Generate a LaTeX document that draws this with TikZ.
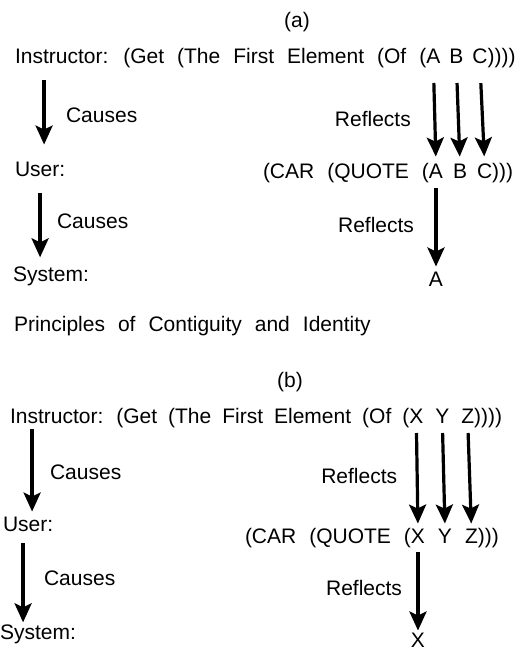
\documentclass[tikz,border=0pt]{standalone}
\usepackage{fontspec}
\setmainfont{Liberation Sans}
\usetikzlibrary{arrows.meta,positioning}
\newcommand{\diagfont}{\fontsize{21}{25}\selectfont\spaceskip=13pt\relax}
\newcommand{\tightfont}{\fontsize{21}{25}\selectfont\spaceskip=11pt\relax}

\begin{document}
\begin{tikzpicture}[x=1pt,y=-1pt]
		\tikzstyle{word}=[inner sep=0pt, outer sep=0pt, font=\diagfont]
		\tikzstyle{link}=[line width=3.2pt, -{Stealth[length=19pt,width=17pt,inset=4pt]}]
		\tikzstyle{link_text}=[word, midway]

		\useasboundingbox (0,0) rectangle (525,650);

		% (a)
		\begin{scope}
			\node [word, anchor=base] (title_a) at (297,28) {(a)};
			\node [word, anchor=base west] (instr_a) at (15,64) {Instructor: (Get (The First Element (Of (};
			\node [word, base right=0pt of instr_a] (top_a1) {A};
			\node [word, base right=9pt of top_a1] (top_a2) {B};
			\node [word, base right=9pt of top_a2] (top_a3) {C};
			\node [word, base right=0pt of top_a3] (close_a1) {))))};

			\node [word, anchor=base west] (user_a) at (15,176) {User:};
			\node [word, anchor=base west] (car_a) at (263,178) {(CAR (QUOTE (};
			\node [word, base right=0pt of car_a] (mid_a1) {A};
			\node [word, base right=10pt of mid_a1] (mid_a2) {B};
			\node [word, base right=10pt of mid_a2] (mid_a3) {C};
			\node [word, base right=0pt of mid_a3] (close_a2) {)))};

			\node [word, anchor=base west] (system_a) at (13,281) {System:};
			\node [word, anchor=base] (result_a) at (mid_a1.base |- 0,286) {A};

			\draw [link, shorten <=12pt, shorten >=17pt] ([xshift=4pt]user_a.north |- instr_a.south) -- ([xshift=4pt]user_a.north)
				node [link_text, right=22pt] (cause_a1) {Causes};
			\draw [link, shorten <=17pt, shorten >=9pt] (user_a.south) -- (user_a.south |- system_a.north)
				node [link_text, right=17pt] (cause_a2) {Causes};

			\draw [link, shorten <=19pt, shorten >=7pt] (top_a1.south) -- (mid_a1.north)
				node [link_text, pos=0.55, left=24pt] (reflect_a1) {Reflects};
			\draw [link, shorten <=19pt, shorten >=7pt] (top_a2.south) -- (mid_a2.north);
			\draw [link, shorten <=19pt, shorten >=7pt] (top_a3.south) -- (mid_a3.north);
			\draw [link, shorten <=10pt, shorten >=5pt] (mid_a1.south) -- (result_a.north)
				node [link_text, left=22pt] (reflect_a2) {Reflects};
		\end{scope}

		\node [word, anchor=base west] (principles) at (14,331) {Principles of Contiguity and Identity};

		% (b)
		\begin{scope}
			\node [word, anchor=base] (title_b) at (290,387) {(b)};
			\node [word, anchor=base west, font=\tightfont] (instr_b) at (10,423) {Instructor: (Get (The First Element (Of (};
			\node [word, base right=0pt of instr_b] (top_b1) {X};
			\node [word, base right=12pt of top_b1] (top_b2) {Y};
			\node [word, base right=12pt of top_b2] (top_b3) {Z};
			\node [word, base right=0pt of top_b3] (close_b1) {))))};

			\node [word, anchor=base west] (user_b) at (3,531) {User:};
			\node [word, anchor=base west] (car_b) at (245,543) {(CAR (QUOTE (};
			\node [word, base right=0pt of car_b] (mid_b1) {X};
			\node [word, base right=13pt of mid_b1] (mid_b2) {Y};
			\node [word, base right=13pt of mid_b2] (mid_b3) {Z};
			\node [word, base right=0pt of mid_b3] (close_b2) {)))};

			\node [word, anchor=base west] (system_b) at (0,639) {System:};
			\node [word, anchor=base] (result_b) at (mid_b1.base |- 0,647) {X};

			\draw [link, shorten <=2pt, shorten >=5pt] ([xshift=4pt]user_b.north |- instr_b.south) -- ([xshift=4pt]user_b.north)
				node [link_text, right=18pt] (cause_b1) {Causes};
			\draw [link, shorten <=12pt, shorten >=2pt] ([xshift=-5pt]user_b.south) -- ([xshift=-5pt]user_b.south |- system_b.north)
				node [link_text, right=21pt] (cause_b2) {Causes};

			\draw [link, shorten <=10pt, shorten >=5pt] (top_b1.south) -- (mid_b1.north)
				node [link_text, left=20pt] (reflect_b1) {Reflects};
			\draw [link, shorten <=10pt, shorten >=5pt] (top_b2.south) -- (mid_b2.north);
			\draw [link, shorten <=10pt, shorten >=5pt] (top_b3.south) -- (mid_b3.north);
			\draw [link, shorten <=9pt, shorten >=2pt] (mid_b1.south) -- (result_b.north)
				node [link_text, left=16pt] (reflect_b2) {Reflects};
		\end{scope}

	\end{tikzpicture}
\end{document}
